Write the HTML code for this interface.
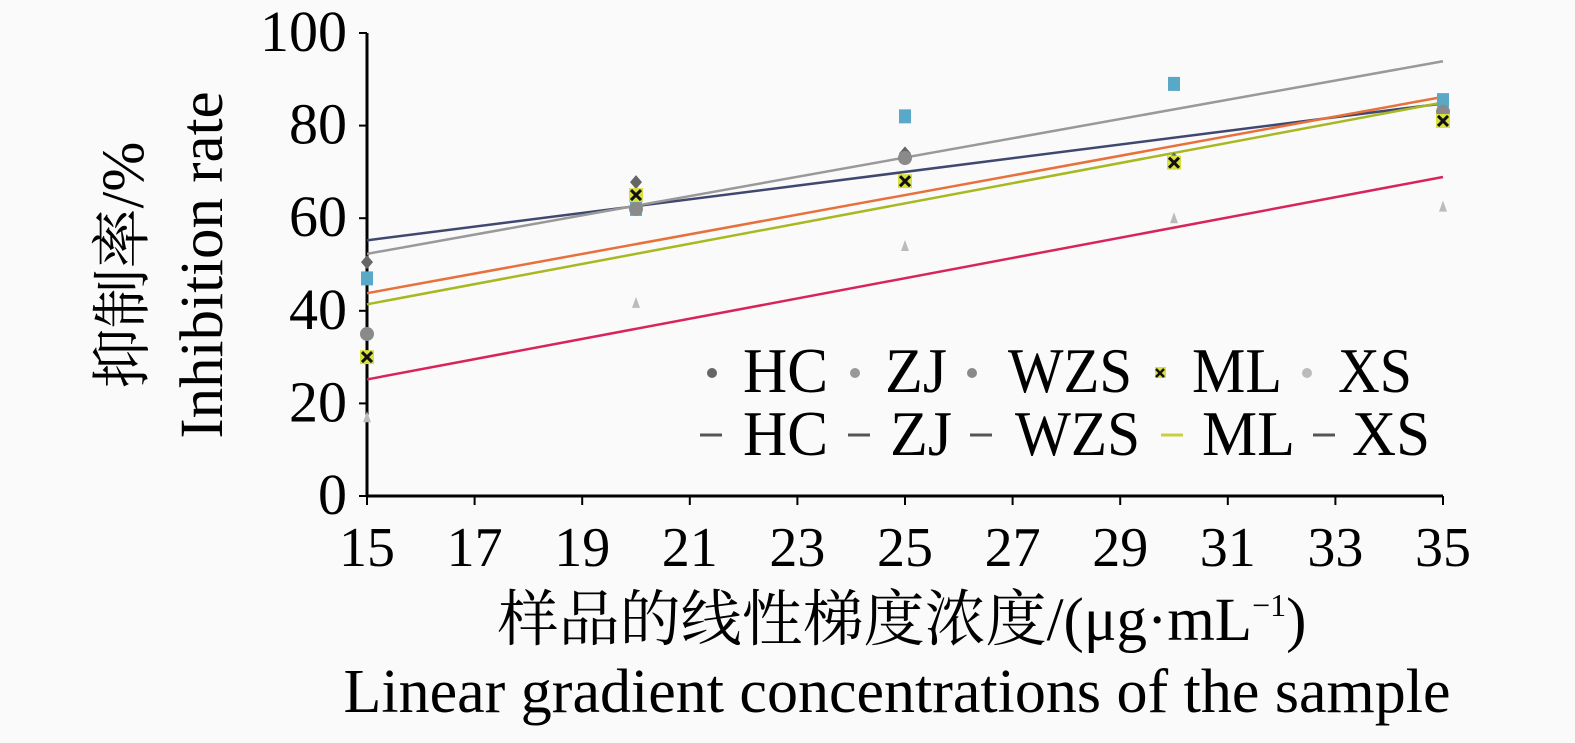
<!DOCTYPE html>
<html><head><meta charset="utf-8"><style>
body{margin:0;background:#fafafa;}
svg{display:block;font-family:"Liberation Serif","Noto Serif CJK SC",serif;}
</style></head><body>
<svg id="c" width="1575" height="743">
<rect width="1575" height="743" fill="#fafafa"/>
<g id="axes"></g>
<g id="lines"></g>
<g id="pts"></g>
<text x="143" y="265" font-size="60" text-anchor="middle" transform="rotate(-90 143 265)">抑制率/%</text>
<text x="222" y="265" font-size="61" text-anchor="middle" transform="rotate(-90 222 265)">Inhibition rate</text>
<text x="902" y="640" font-size="61" text-anchor="middle">样品的线性梯度浓度/(μg·mL<tspan font-size="32" dy="-24">−1</tspan><tspan dy="24">)</tspan></text>
<text x="897" y="712" font-size="62" text-anchor="middle">Linear gradient concentrations of the sample</text>
<g id="legend"></g>
</svg>
<script>
const xs=[15,20,25,30,35];
const names=['HC','ZJ','WZS','ML','XS'];
const hc=[50.5,67.8,74,72.7,85];
const zj=[47,62,82,89,85.5];
const wzs=[35,62,73,72,83];
const ml=[30,65,68,72,81];
const xsv=[17,41.7,54,60,62.5];
const xTicks=[15,17,19,21,23,25,27,29,31,33,35];
const yTicks=[0,20,40,60,80,100];
const series=[hc,zj,wzs,ml,xsv];
const lineColors=['#404870','#999999','#e8703a','#a8b820','#d8245a'];
const ptColors=['#666666','#5aa8c8','#8a8a8a','#1a1a1a','#bbbbbb'];
const X=v=>367+(v-15)*53.8;
const Y=v=>496-v*4.63;
const NS='http://www.w3.org/2000/svg';
function mk(t,a,p){const e=document.createElementNS(NS,t);for(const k in a)e.setAttribute(k,a[k]);p.appendChild(e);return e;}
const ax=document.getElementById('axes');
let e=mk('line',{x1:X(15),y1:Y(0),x2:X(35),y2:Y(0),stroke:'#000','stroke-width':3},ax);


e=mk('line',{x1:X(15),y1:Y(0),x2:X(15),y2:Y(100),stroke:'#000','stroke-width':3},ax);


xTicks.forEach(t=>{
 mk('line',{x1:X(t),y1:Y(0),x2:X(t),y2:Y(0)+9,stroke:'#000','stroke-width':2},ax);
 const tx=mk('text',{x:X(t),y:566,'font-size':56,'text-anchor':'middle'},ax);tx.textContent=t;
 
 
});
yTicks.forEach(t=>{
 mk('line',{x1:X(15)-8,y1:Y(t),x2:X(15),y2:Y(t),stroke:'#000','stroke-width':2},ax);
 const tx=mk('text',{x:347,y:Y(t)+18,'font-size':58,'text-anchor':'end'},ax);tx.textContent=t;
 
 
});
const lg=document.getElementById('lines'),pg=document.getElementById('pts');
series.forEach((s,i)=>{
 const mx=xs.reduce((a,b)=>a+b,0)/xs.length,my=s.reduce((a,b)=>a+b,0)/s.length;
 let num=0,den=0;xs.forEach((x,j)=>{num+=(x-mx)*(s[j]-my);den+=(x-mx)**2;});
 const b=num/den,a=my-b*mx;
 const l=mk('line',{x1:X(15),y1:Y(a+b*15),x2:X(35),y2:Y(a+b*35),stroke:lineColors[i],'stroke-width':2.5},lg);
 
 
 s.forEach((v,j)=>{
  const cx=X(xs[j]),cy=Y(v);let m;
  if(i==0)m=mk('path',{d:`M${cx} ${cy-7}L${cx+6} ${cy}L${cx} ${cy+7}L${cx-6} ${cy}Z`,fill:ptColors[i]},pg);
  else if(i==1)m=mk('rect',{x:cx-6,y:cy-7,width:12,height:14,fill:ptColors[i]},pg);
  else if(i==2)m=mk('circle',{cx:cx,cy:cy,r:7,fill:ptColors[i]},pg);
  else if(i==3){m=mk('g',{},pg);mk('rect',{x:cx-7,y:cy-7,width:14,height:14,fill:'#d8e040'},m);mk('path',{d:`M${cx-5} ${cy-5}L${cx+5} ${cy+5}M${cx+5} ${cy-5}L${cx-5} ${cy+5}`,stroke:'#111','stroke-width':3},m);}
  else m=mk('path',{d:`M${cx} ${cy-6}L${cx+4} ${cy+5}L${cx-4} ${cy+5}Z`,fill:ptColors[i]},pg);
  
  
 });
});
const leg=document.getElementById('legend');
const mx1=[712,855,972,1160,1307],tx1=[743,885,1008,1192,1338],tw1=[85,62,124,90,74];
const lx2=[711,859,981,1172,1324],tx2=[743,890,1015,1202,1352],tw2=[85,62,125,93,78];
names.forEach((n,i)=>{
 let m;
 if(i==3){m=mk('rect',{x:mx1[i]-5,y:367,width:11,height:11,fill:'#d8e040'},leg);mk('path',{d:`M${mx1[i]-4} 369L${mx1[i]+4} 377M${mx1[i]+4} 369L${mx1[i]-4} 377`,stroke:'#111','stroke-width':2.5},leg);}
 else m=mk('circle',{cx:mx1[i],cy:373,r:5,fill:i==1?'#999':ptColors[i]},leg);
 
 
 let t=mk('text',{x:tx1[i],y:392,'font-size':64,textLength:tw1[i],lengthAdjust:'spacingAndGlyphs'},leg);t.textContent=n;
 
 
 let l=mk('line',{x1:lx2[i]-11,y1:435,x2:lx2[i]+11,y2:435,stroke:i==3?'#c8d040':'#555','stroke-width':3},leg);
 
 
 t=mk('text',{x:tx2[i],y:455,'font-size':64,textLength:tw2[i],lengthAdjust:'spacingAndGlyphs'},leg);t.textContent=n;
 
 
});
</script>
</body></html>
